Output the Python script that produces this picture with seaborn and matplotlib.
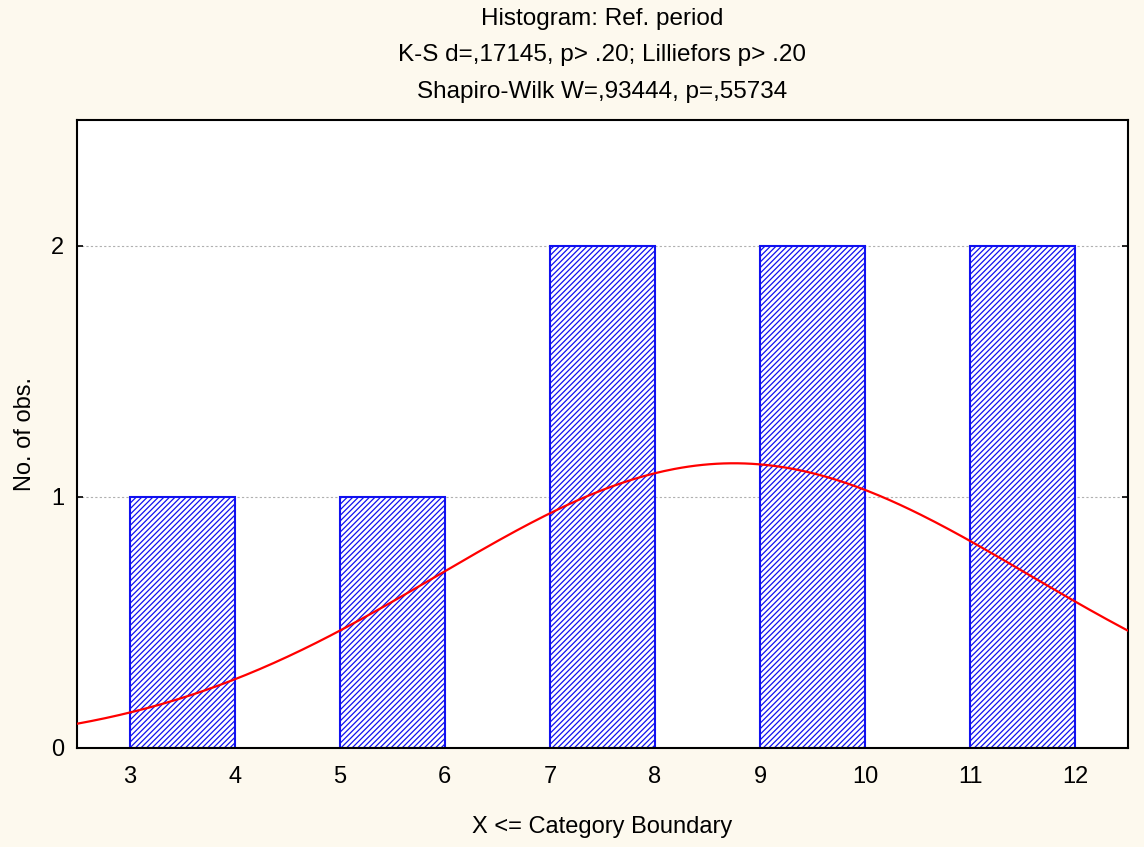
import numpy as np
import pandas as pd
import matplotlib
matplotlib.use('Agg')
import matplotlib.pyplot as plt
import seaborn as sns

# observations of the reference period
obs = [4, 6, 8, 8, 10, 10, 12, 12]
# category boundaries (X <= boundary) and counts
upper = [4, 6, 8, 10, 12]
counts = [1, 1, 2, 2, 2]
bin_width = 1

x_ticks = [3, 4, 5, 6, 7, 8, 9, 10, 11, 12]
y_ticks = [0, 1, 2]

title = ('Histogram: Ref. period\n'
         'K-S d=,17145, p> .20; Lilliefors p> .20\n'
         'Shapiro-Wilk W=,93444, p=,55734')

sns.set_style('white')
plt.rcParams['font.family'] = ['Liberation Sans', 'DejaVu Sans']
plt.rcParams['text.color'] = 'black'
plt.rcParams['axes.labelcolor'] = 'black'
plt.rcParams['hatch.linewidth'] = 0.9
plt.rcParams['hatch.color'] = '#4848ff'

fig = plt.figure(figsize=(11.44, 8.47), dpi=100, facecolor='#fdf9ee')
ax = fig.add_axes([0.0673, 0.1169, 0.9187, 0.7414])
ax.set_facecolor('white')

# bars: each category spans (boundary - width, boundary]
ax.bar(upper, counts, width=-bin_width, align='edge', facecolor='white',
       edgecolor='#1010f0', linewidth=1.5, hatch='//////', zorder=2)

# fitted normal curve scaled to counts
mu = np.mean(obs)
sd = np.std(obs, ddof=1)
xs = np.linspace(2.5, 12.5, 300)
ys = len(obs) * bin_width * np.exp(-0.5 * ((xs - mu) / sd) ** 2) / (sd * np.sqrt(2 * np.pi))
curve = pd.DataFrame({'x': xs, 'y': ys})
sns.lineplot(data=curve, x='x', y='y', color='#ff0000', linewidth=1.6, ax=ax, zorder=3)

ax.set_xlim(2.5, 12.5)
ax.set_ylim(0, 2.5)
ax.set_xticks(x_ticks)
ax.set_yticks(y_ticks)
ax.yaxis.grid(True, linestyle=(0, (2, 2)), color='#b0b0b0', linewidth=0.8)
ax.set_axisbelow(True)
ax.tick_params(axis='both', direction='in', length=4, width=1.2, labelsize=17,
               colors='black', pad=13, right=True, left=True, bottom=True)
ax.tick_params(axis='y', pad=9)
for s in ax.spines.values():
    s.set_color('black')
    s.set_linewidth(1.5)

ax.set_xlabel('X <= Category Boundary', fontsize=17, labelpad=20, color='black')
ax.set_ylabel('No. of obs.', fontsize=17, labelpad=11, color='black')
ax.set_title(title, fontsize=17.5, linespacing=1.85, pad=16, color='black')

fig.savefig('out.png', dpi=100, facecolor=fig.get_facecolor())
